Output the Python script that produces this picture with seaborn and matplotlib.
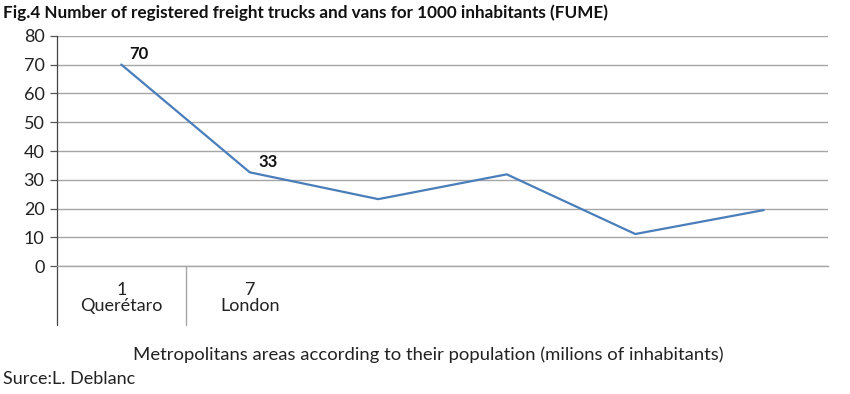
import matplotlib
matplotlib.use("Agg")
import matplotlib.pyplot as plt
import seaborn as sns
import pandas as pd

sns.set_style("white")
plt.rcParams['font.family'] = ['Lato', 'DejaVu Sans']

# ---- data ----
positions = [1, 2, 3, 4, 5, 6]
values = [70, 32.6, 23.3, 31.9, 11.2, 19.5]
labelled = [0, 1]  # indices that carry a data label
cat_labels = ["1\nQuerétaro", "7\nLondon", "", "", "", ""]
yticks = [0, 10, 20, 30, 40, 50, 60, 70, 80]
title = "Fig.4 Number of registered freight trucks and vans for 1000 inhabitants (FUME)"
xlabel = "Metropolitans areas according to their population (milions of inhabitants)"
source = "Surce:L. Deblanc"

df = pd.DataFrame({"pos": positions, "val": values})

fig = plt.figure(figsize=(8.5, 3.94), dpi=100)
W, H = 850, 394
x0, x1 = 57, 828
y_top, y_bot = 35.7, 266.3
ax = fig.add_axes([x0 / W, 1 - y_bot / H, (x1 - x0) / W, (y_bot - y_top) / H])

sns.lineplot(data=df, x="pos", y="val", ax=ax, color="#4a7ebb", linewidth=1.6)

ax.set_xlim(0.5, 6.5)
ax.set_ylim(0, 80)
ax.set_yticks(yticks)
ax.set_yticklabels([str(t) for t in yticks], fontsize=13, color="#222222")
ax.yaxis.grid(True, color="#a6a6a6", linewidth=1.0)
ax.set_axisbelow(True)
ax.tick_params(axis="y", length=5, width=0.9, color="#555555", pad=4, left=True)

for s in ["top", "right"]:
    ax.spines[s].set_visible(False)
ax.spines["left"].set_color("#444444")
ax.spines["left"].set_linewidth(0.9)
ax.spines["bottom"].set_color("#a6a6a6")
ax.spines["bottom"].set_linewidth(1.0)

ax.set_xticks(positions)
ax.set_xticklabels(cat_labels, fontsize=13, color="#222222", linespacing=1.0)
ax.tick_params(axis="x", length=0, pad=11)
ax.set_xlabel("")
ax.set_ylabel("")

# category divider lines below the axis (left edge and between cat 1 and 2)
from matplotlib.transforms import blended_transform_factory
tr = blended_transform_factory(ax.transData, ax.transAxes)
ext = (325 - y_bot) / (y_bot - y_top)
for xb in [0.5, 1.5]:
    ax.plot([xb, xb], [0, -ext], transform=tr, color="#a6a6a6" if xb > 1 else "#444444",
            linewidth=0.9 if xb < 1 else 1.0, clip_on=False)

for i in labelled:
    ax.annotate(f"{values[i]:.0f}", (positions[i], values[i]), xytext=(6, 1.5),
                textcoords="offset points", fontsize=12, fontweight="bold",
                color="#111111", ha="left", va="bottom")

fig.text(3 / W, 1 - 13 / H, title, fontsize=12.3, fontweight="bold", color="#111111",
         ha="left", va="center")
fig.text(428 / W, 1 - 355 / H, xlabel, fontsize=13.3, color="#222222", ha="center", va="center")
fig.text(3 / W, 1 - 379 / H, source, fontsize=13, color="#222222", ha="left", va="center")

fig.savefig("out.png", dpi=100)
